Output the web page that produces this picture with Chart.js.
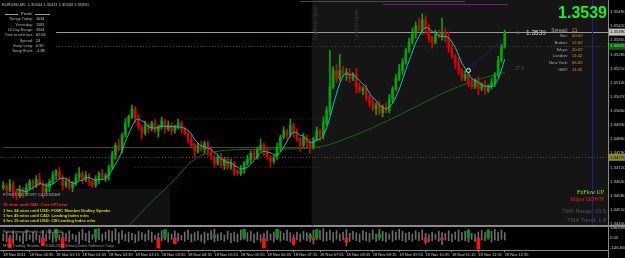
<!DOCTYPE html>
<html>
<head>
<meta charset="utf-8">
<title>EURUSD,M5</title>
<script src="https://cdn.jsdelivr.net/npm/chart.js@4.4.1/dist/chart.umd.min.js"></script>
<style>
  html, body { margin: 0; padding: 0; background: #000; overflow: hidden; }
  #wrap { position: relative; width: 625px; height: 258px; background: #000; }
  #wrap canvas { position: absolute; left: 0; }
  #main { top: 0; }
  #osc { top: 226px; }
</style>
</head>
<body>
<div id="wrap">
  <canvas id="main" width="625" height="226"></canvas>
  <canvas id="osc" width="625" height="32"></canvas>
</div>
<script>
// EURUSD M5, 18 Nov 2011. one entry per 5 minute bar, bar 0 = 17 Nov 23:55
const firstOpen = 1.3462;
const closes = [
  1.3463, 1.3461, 1.3464, 1.3460, 1.3458, 1.3461, 1.3459, 1.3462, 1.3465, 1.3463,
  1.3466, 1.3464, 1.3460, 1.3462, 1.3465, 1.3468, 1.3470, 1.3467, 1.3463, 1.3465,
  1.3462, 1.3464, 1.3467, 1.3469, 1.3466, 1.3468, 1.3465, 1.3463, 1.3466, 1.3469,
  1.3467, 1.3468, 1.3472, 1.3478, 1.3483, 1.3481, 1.3488, 1.3494, 1.3497, 1.3501,
  1.3496, 1.3492, 1.3489, 1.3493, 1.3491, 1.3494, 1.3490, 1.3492, 1.3495, 1.3491,
  1.3493, 1.3490, 1.3492, 1.3494, 1.3491, 1.3489, 1.3486, 1.3483, 1.3480, 1.3483,
  1.3481, 1.3484, 1.3480, 1.3477, 1.3474, 1.3477, 1.3473, 1.3476, 1.3472, 1.3474,
  1.3470, 1.3469, 1.3471, 1.3474, 1.3476, 1.3479, 1.3477, 1.3481, 1.3483, 1.3480,
  1.3477, 1.3475, 1.3477, 1.3482, 1.3487, 1.3490, 1.3488, 1.3493, 1.3489, 1.3486,
  1.3483, 1.3487, 1.3484, 1.3482, 1.3486, 1.3490, 1.3488, 1.3494, 1.3500, 1.3512,
  1.3520, 1.3516, 1.3520, 1.3518, 1.3519, 1.3516, 1.3518, 1.3512, 1.3510, 1.3511,
  1.3507, 1.3504, 1.3501, 1.3503, 1.3499, 1.3502, 1.3500, 1.3506, 1.3511, 1.3516,
  1.3520, 1.3524, 1.3530, 1.3534, 1.3538, 1.3542, 1.3540, 1.3545, 1.3541, 1.3536,
  1.3534, 1.3538, 1.3537, 1.3539, 1.3536, 1.3531, 1.3527, 1.3524, 1.3520, 1.3516,
  1.3518, 1.3514, 1.3512, 1.3515, 1.3511, 1.3513, 1.3510, 1.3512, 1.3514, 1.3518,
  1.3525, 1.3532, 1.3539
];
// wick lengths in pips above / below the body
const wickUp = [
  2, 1, 2, 1, 1, 2, 1, 2, 1, 1,
  2, 3, 1, 2, 1, 2, 1, 2, 1, 1,
  2, 1, 2, 3, 1, 2, 1, 1, 2, 1,
  2, 1, 1, 2, 1, 3, 1, 2, 1, 2,
  1, 2, 1, 2, 1, 1, 2, 1, 2, 1,
  2, 1, 1, 2, 1, 1, 1, 2, 1, 1,
  2, 1, 1, 2, 1, 1, 2, 1, 1, 2,
  1, 1, 2, 1, 2, 1, 2, 1, 3, 1,
  2, 1, 1, 2, 1, 2, 1, 3, 1, 2,
  1, 2, 1, 2, 1, 2, 1, 3, 2, 18,
  2, 3, 8, 2, 2, 2, 1, 3, 2, 1,
  2, 1, 2, 1, 2, 1, 2, 2, 1, 2,
  3, 2, 1, 2, 3, 2, 4, 3, 2, 2,
  1, 2, 2, 7, 2, 3, 2, 1, 2, 1,
  2, 1, 2, 1, 2, 1, 2, 1, 2, 1,
  2, 1, 1
];
const wickDn = [
  1, 2, 1, 3, 2, 1, 2, 1, 1, 2,
  1, 1, 3, 1, 2, 1, 2, 1, 2, 1,
  1, 2, 1, 1, 2, 1, 2, 1, 1, 2,
  1, 2, 2, 1, 2, 1, 2, 1, 2, 1,
  2, 1, 3, 1, 2, 1, 1, 3, 1, 2,
  1, 2, 1, 1, 2, 1, 2, 1, 3, 1,
  1, 2, 2, 1, 2, 1, 1, 2, 1, 1,
  2, 1, 1, 2, 1, 2, 1, 1, 1, 2,
  1, 3, 1, 1, 2, 1, 2, 1, 2, 1,
  3, 1, 2, 3, 1, 1, 3, 2, 1, 2,
  1, 2, 1, 1, 3, 2, 1, 3, 1, 2,
  2, 2, 1, 3, 1, 2, 1, 1, 2, 1,
  1, 2, 1, 1, 1, 2, 1, 2, 3, 2,
  3, 1, 1, 2, 2, 2, 1, 3, 2, 1,
  1, 2, 1, 1, 3, 1, 2, 1, 1, 2,
  1, 1, 1
];

// slow moving average, read at a few bars
const slowMaBars = [38, 45, 52, 58, 65, 80, 95, 105, 115, 125, 135, 145, 152];
const slowMaValues = [1.3443, 1.3455, 1.3466, 1.3476, 1.3480, 1.3481, 1.3482, 1.3487, 1.3494, 1.3502, 1.3510, 1.3516, 1.3519];
const upperBandBars = [55, 96];
const upperBandValues = [1.3496, 1.3496];
const lowerBandBars = [40, 96];
const lowerBandValues = [1.3472, 1.3472];
const swingBars = [141, 152];
const swingValues = [1.3521, 1.3536];
const ringBars = [141];
const ringValues = [1.3520];

// oscillator panel
const oscHigh = [
  60, 90, 40, 110, 70, 30, 80, 120, 50, 90,
  70, 40, 100, 60, 130, 80, 120, 50, 90, 70,
  110, 60, 40, 90, 130, 70, 100, 50, 80, 140,
  60, 90, 120, 100, 140, 80, 110, 60, 90, 70,
  50, 100, 80, 60, 120, 90, 40, 70, 110, 130,
  80, 60, 100, 70, 40, 90, 120, 60, 80, 100,
  50, 90, 70, 110, 130, 60, 80, 40, 100, 70,
  90, 60, 120, 130, 80, 100, 60, 90, 50, 70,
  110, 60, 90, 130, 100, 70, 120, 80, 50, 90,
  60, 100, 80, 70, 120, 130, 110, 140, 90, 120,
  80, 110, 60, 90, 130, 70, 100, 80, 60, 110,
  90, 70, 120, 60, 130, 100, 80, 60, 110, 90,
  130, 100, 70, 90, 60, 110, 80, 120, 70, 50,
  90, 60, 100, 80, 70, 110, 60, 90, 120, 80,
  100, 130, 70, 60, 90, 110, 80, 120, 100, 130,
  90, 120, 80
];
const oscLow = [
  -40, -60, -20, -80, -30, -50, -90, -40, -20, -60,
  -30, -70, -110, -40, -20, -60, -50, -30, -100, -40,
  -60, -20, -50, -90, -30, -40, -70, -20, -60, -30,
  -50, -20, -40, -60, -30, -80, -20, -40, -60, -30,
  -70, -40, -20, -50, -30, -60, -20, -110, -40, -30,
  -60, -20, -90, -40, -30, -50, -20, -60, -40, -30,
  -50, -80, -30, -20, -60, -40, -30, -50, -20, -70,
  -40, -60, -30, -20, -50, -40, -70, -30, -60, -120,
  -40, -30, -60, -20, -50, -30, -40, -60, -110, -30,
  -50, -20, -40, -60, -90, -30, -20, -50, -40, -30,
  -60, -20, -40, -30, -120, -50, -20, -40, -60, -30,
  -40, -60, -20, -50, -30, -40, -60, -20, -50, -30,
  -20, -40, -60, -30, -50, -20, -40, -30, -90, -60,
  -40, -20, -50, -100, -30, -40, -60, -20, -50, -30,
  -40, -60, -20, -50, -140, -30, -40, -20, -60, -30,
  -40, -20, -30
];
const greenSignals = [[16, 130], [28, 130], [49, 120], [64, 40], [73, 130], [83, 130], [93, 40], [95, 120], [114, 60], [141, 110], [147, 120]];
const redSignals = [[2, -150], [12, -110], [18, -150], [47, -150], [52, -80], [79, -150], [88, -90], [94, -30], [104, -60], [128, -60], [133, -30], [144, -170]];

// axes
const priceTicks = [1.3549, 1.3542, 1.3535, 1.3528, 1.3521, 1.3514, 1.3507, 1.3500, 1.3493, 1.3486, 1.3479, 1.3472, 1.3465, 1.3458, 1.3451, 1.3444];
const tickBars = [0, 8, 16, 24, 32, 40, 48, 56, 64, 72, 80, 88, 96, 104, 112, 120, 128, 136, 144, 152];
const tickLabels = ["18 Nov 2011", "18 Nov 00:35", "18 Nov 01:15", "18 Nov 01:55", "18 Nov 02:35", "18 Nov 03:15", "18 Nov 03:55", "18 Nov 04:35", "18 Nov 05:15", "18 Nov 05:55", "18 Nov 06:35", "18 Nov 07:15", "18 Nov 07:55", "18 Nov 08:35", "18 Nov 09:15", "18 Nov 09:55", "18 Nov 10:35", "18 Nov 11:15", "18 Nov 11:55", "18 Nov 12:35"];
const oscTicks = [146.666, 0, -146.666];
const oscTickLabels = ["146.666", "0.00", "-146.666"];

// levels
const bidPrice = 1.3539;
const greenLevel = 1.3532;
const yellowLevel = 1.3477;
const openLevel = 1.3482;
const topLevel = 1.35545;
const purpleLevel = 1.3553;
const sessionStartBar = 93.5;
const frankfurtBar = 94;
const londonBar = 106.5;
const nowBar = 178.5;

const yMin = 1.3443, yMax = 1.35549;
const xMin = -1, xMax = 183.3;
const pip = 0.0001;

const pivotRows = [["Range Today:", "1034"], ["Yesterday:", "1581"], ["10 Day Range:", "1504"], ["Time to next bar:", "02:06"], ["Spread:", "24"], ["Swap Long:", "0.90"], ["Swap Short:", "-1.88"]];
const clockRows = [["Spread:", "21"], ["Bar:", "00:02"], ["Broker:", "12:42"], ["Tokyo:", "20:42"], ["London:", "11:42"], ["New York:", "06:42"], ["GMT:", "11:42"]];
const newsLines = [
  ["10 mins until CAD: Core CPI m/m", "#ff2a2a"],
  ["1 hrs 34 mins until USD: FOMC Member Dudley Speaks", "#d8d800"],
  ["1 hrs 49 mins until CAD: Leading Index m/m", "#d8d800"],
  ["3 hrs 19 mins until USD: CB Leading Index m/m", "#d8d800"],
];

const SANS = "'Liberation Sans', Arial, sans-serif";
const SERIF = "'Liberation Serif', 'Times New Roman', serif";
Chart.defaults.font.family = SANS;
Chart.defaults.animation = false;
Chart.defaults.events = [];
Chart.defaults.plugins.legend.display = false;
Chart.defaults.plugins.tooltip.enabled = false;

const n = closes.length;
const opens = [firstOpen].concat(closes.slice(0, n - 1));
const highs = closes.map((c, i) => Math.max(c, opens[i]) + wickUp[i] * pip);
const lows = closes.map((c, i) => Math.min(c, opens[i]) - wickDn[i] * pip);
const candleColor = closes.map((c, i) => (c >= opens[i] ? "#00a800" : "#d80000"));

const fastMa = [];
closes.forEach((c, i) => {
  if (i < 4) return;
  let s = 0;
  for (let k = i - 4; k <= i; k++) s += closes[k];
  fastMa.push({ x: i, y: s / 5 });
});

const pts = (bars, vals) => bars.map((b, i) => ({ x: b, y: vals[i] }));

function txt(ctx, s, x, y, color, size, align, font, bold) {
  ctx.font = (bold ? "bold " : "") + size + "px " + (font || SANS);
  ctx.fillStyle = color;
  ctx.textAlign = align || "left";
  ctx.textBaseline = "middle";
  ctx.fillText(s, x, y);
}

function hLine(ctx, x, y, price, fromBar, toBar, color, dash) {
  const py = Math.round(y.getPixelForValue(price)) + 0.5;
  ctx.beginPath();
  ctx.setLineDash(dash || []);
  ctx.strokeStyle = color;
  ctx.lineWidth = 1;
  ctx.moveTo(x.getPixelForValue(fromBar), py);
  ctx.lineTo(x.getPixelForValue(toBar), py);
  ctx.stroke();
  ctx.setLineDash([]);
}

const mainDecor = {
  id: "mainDecor",
  beforeDatasetsDraw(chart) {
    const { ctx, chartArea: a, scales: { x, y } } = chart;
    ctx.save();
    // session shading
    const sx = x.getPixelForValue(sessionStartBar);
    ctx.fillStyle = "#151515";
    ctx.fillRect(sx, a.top, a.right - sx, a.bottom - a.top);
    // calendar box
    ctx.fillStyle = "#111111";
    ctx.fillRect(0, 189, 170, a.bottom - 189);

    hLine(ctx, x, y, topLevel, 90, 140, "#4a4a4a");
    hLine(ctx, x, y, purpleLevel, 115, 153, "#7a1a8a");
    hLine(ctx, x, y, openLevel, 0, 96, "#4f4a1c");
    hLine(ctx, x, y, yellowLevel, xMin, xMax, "#4d5a1e", [1, 2]);
    hLine(ctx, x, y, greenLevel, 16, xMax, "#2a5a2a", [1, 2]);
    hLine(ctx, x, y, bidPrice, 16, xMax, "#9a9a9a");

    // now line
    const nx = Math.round(x.getPixelForValue(nowBar)) + 0.5;
    ctx.strokeStyle = "#1c1c9a";
    ctx.beginPath();
    ctx.moveTo(nx, a.top);
    ctx.lineTo(nx, a.bottom);
    ctx.stroke();

    // session labels
    [[frankfurtBar, "Frankfurt Open"], [londonBar, "London Open"]].forEach(([b, s]) => {
      ctx.save();
      ctx.translate(x.getPixelForValue(b) + 2, 40);
      ctx.rotate(-Math.PI / 2);
      txt(ctx, s, 0, 0, "#3c3c3c", 5);
      ctx.restore();
    });
    ctx.restore();
  },
  afterDraw(chart) {
    const { ctx, chartArea: a, scales: { y } } = chart;
    ctx.save();
    // price axis border
    ctx.strokeStyle = "#8a8a8a";
    ctx.beginPath();
    ctx.moveTo(a.right + 0.5, 0);
    ctx.lineTo(a.right + 0.5, chart.height);
    ctx.moveTo(0, chart.height - 0.5);
    ctx.lineTo(chart.width, chart.height - 0.5);
    ctx.stroke();

    // axis tags
    [[bidPrice, "#c4c4c4", "#000"], [greenLevel, "#0c5e0c", "#7cff7c"], [yellowLevel, "#8a8a2c", "#000"]].forEach(([p, bg, fg]) => {
      const py = y.getPixelForValue(p);
      ctx.fillStyle = bg;
      ctx.fillRect(a.right + 1, py - 3.5, chart.width - a.right, 7);
      txt(ctx, p.toFixed(5), a.right + 2, py, fg, 4.3);
    });

    // symbol line
    txt(ctx, "EURUSD,M5  1.35344 1.35411 1.35343 1.35390", 2, 5, "#c8c8c8", 4);

    // pivots box
    ctx.strokeStyle = "#9a9a9a";
    ctx.beginPath();
    ctx.moveTo(5, 14.5); ctx.lineTo(18, 14.5);
    ctx.moveTo(35, 14.5); ctx.lineTo(50, 14.5);
    ctx.stroke();
    txt(ctx, "Pivots", 26.5, 14, "#c0c0c0", 4, "center");
    pivotRows.forEach(([l, v], k) => {
      const ry = 19.3 + k * 5.3;
      txt(ctx, l, 33, ry, "#b4b4b4", 3.8, "right");
      txt(ctx, v, 36, ry, "#c8c8c8", 3.8);
    });

    // big bid
    ctx.font = "bold 16px " + SANS;
    ctx.fillStyle = "#1ef01e";
    ctx.textAlign = "right";
    ctx.textBaseline = "alphabetic";
    ctx.fillText("1.3539", 607, 18);

    txt(ctx, "14", 515, 33, "#6a6a6a", 4);
    txt(ctx, "1.3539", 526, 33.5, "#d4d4d4", 6.5);
    txt(ctx, "17.5", 515, 69, "#505050", 4.5);

    const clockY = [30.7, 36, 43, 50, 56.3, 63, 69.7];
    clockRows.forEach(([l, v], k) => {
      txt(ctx, l, 568, clockY[k], "#a8a8a8", k === 0 ? 4.8 : 4.2, "right");
      txt(ctx, v, 572, clockY[k], "#e8901e", k === 0 ? 4.8 : 4.2);
    });

    // calendar
    txt(ctx, "FOREX FACTORY CALENDAR", 3, 195, "#7c7c7c", 4, "left", SANS, true);
    const newsY = [204.5, 210.5, 216, 221.3];
    newsLines.forEach(([s, c], k) => {
      txt(ctx, s, 3, newsY[k], c, 4.1, "left", SANS, true);
    });

    // trend box
    txt(ctx, "FxFlow UP", 604, 192, "#86f000", 5.8, "right", SERIF);
    txt(ctx, "Major DOWN", 604, 199.5, "#ff1a1a", 5.8, "right", SERIF);
    txt(ctx, "TMA Range: 33.5", 606, 211, "#525252", 5.6, "right");
    txt(ctx, "TMA Trend: 1.8", 606, 220, "#525252", 5.6, "right");
    ctx.restore();
  },
};

new Chart(document.getElementById("main"), {
  type: "bar",
  data: {
    datasets: [
      {
        type: "line",
        data: fastMa,
        borderColor: "#00c8c8",
        borderWidth: 1,
        pointRadius: 0,
        tension: 0.3,
        order: 0,
      },
      {
        type: "line",
        data: pts(ringBars, ringValues),
        showLine: false,
        pointRadius: 2,
        pointBorderWidth: 1,
        pointBorderColor: "#ffffff",
        pointBackgroundColor: "rgba(0,0,0,0)",
        order: 0,
      },
      {
        data: closes.map((c, i) => ({ x: i, y: [opens[i], c] })),
        backgroundColor: candleColor,
        barThickness: 2,
        minBarLength: 1,
        grouped: false,
        order: 1,
      },
      {
        data: closes.map((c, i) => ({ x: i, y: [lows[i], highs[i]] })),
        backgroundColor: candleColor,
        barThickness: 1,
        grouped: false,
        order: 2,
      },
      {
        type: "line",
        data: pts(swingBars, swingValues),
        borderColor: "#2626c8",
        borderWidth: 1,
        borderDash: [2, 2],
        pointRadius: 0,
        order: 3,
      },
      {
        type: "line",
        data: pts(slowMaBars, slowMaValues),
        borderColor: "#0c6e0c",
        borderWidth: 1,
        pointRadius: 0,
        tension: 0.4,
        order: 4,
      },
      {
        type: "line",
        data: pts(upperBandBars, upperBandValues),
        borderColor: "#6e1c1c",
        borderWidth: 1,
        borderDash: [1, 2],
        pointRadius: 0,
        order: 5,
      },
      {
        type: "line",
        data: pts(lowerBandBars, lowerBandValues),
        borderColor: "#6e1c1c",
        borderWidth: 1,
        borderDash: [1, 2],
        pointRadius: 0,
        order: 5,
      },
    ],
  },
  options: {
    responsive: false,
    layout: { padding: 0, autoPadding: false },
    scales: {
      x: { type: "linear", min: xMin, max: xMax, offset: false, display: false },
      y: {
        position: "right",
        min: yMin,
        max: yMax,
        bounds: "data",
        afterBuildTicks: (s) => { s.ticks = priceTicks.map((v) => ({ value: v })); },
        afterFit: (s) => { s.width = 17; s.paddingTop = 0; s.paddingBottom = 0; },
        ticks: {
          autoSkip: false,
          padding: 2,
          color: "#c8c8c8",
          font: { size: 4.3 },
          callback: (v) => v.toFixed(5),
        },
        grid: { display: false, drawTicks: false },
        border: { display: false },
      },
    },
  },
  plugins: [mainDecor],
});

const oscDecor = {
  id: "oscDecor",
  afterDraw(chart) {
    const { ctx, chartArea: a } = chart;
    ctx.save();
    ctx.strokeStyle = "#8a8a8a";
    ctx.beginPath();
    ctx.moveTo(0, 0.5);
    ctx.lineTo(chart.width, 0.5);
    ctx.moveTo(a.right + 0.5, 0);
    ctx.lineTo(a.right + 0.5, chart.height);
    ctx.stroke();
    txt(ctx, "Retracement Finder (4) 100.0000", 3, 6, "#a0a0a0", 4);
    txt(ctx, "MT4 Trading Station, \u00a9 2006-2011 MetaQuotes Software Corp.", 3, 20, "#9a9a9a", 4);
    ctx.restore();
  },
};

new Chart(document.getElementById("osc"), {
  type: "bar",
  data: {
    datasets: [
      {
        data: greenSignals.map(([b, v]) => ({ x: b, y: [0, v] })),
        backgroundColor: "#0e8a1a",
        borderWidth: 0,
        barThickness: 3,
        grouped: false,
        order: 0,
      },
      {
        data: redSignals.map(([b, v]) => ({ x: b, y: [v, 0] })),
        backgroundColor: "#ff1010",
        barThickness: 3,
        grouped: false,
        order: 0,
      },
      {
        data: oscHigh.map((h, i) => ({ x: i, y: [oscLow[i], h] })),
        backgroundColor: "#6c6c6c",
        barThickness: 1,
        grouped: false,
        order: 1,
      },
    ],
  },
  options: {
    responsive: false,
    layout: { padding: 0, autoPadding: false },
    scales: {
      x: {
        type: "linear",
        min: xMin,
        max: xMax,
        offset: false,
        afterBuildTicks: (s) => { s.ticks = tickBars.map((v) => ({ value: v })); },
        afterFit: (s) => { s.height = 8; s.paddingLeft = 0; s.paddingRight = 0; },
        ticks: {
          autoSkip: false,
          maxRotation: 0,
          minRotation: 0,
          align: "start",
          padding: 0,
          color: "#c8c8c8",
          font: { size: 4 },
          callback: (v, i) => tickLabels[i],
        },
        grid: { drawOnChartArea: false, drawTicks: true, tickLength: 2, color: "#8a8a8a", offset: false },
        border: { display: true, color: "#8a8a8a" },
      },
      y: {
        position: "right",
        min: -180,
        max: 180,
        bounds: "data",
        afterBuildTicks: (s) => { s.ticks = oscTicks.map((v) => ({ value: v })); },
        afterFit: (s) => { s.width = 17; s.paddingTop = 0; s.paddingBottom = 0; },
        ticks: {
          autoSkip: false,
          padding: 2,
          color: "#c8c8c8",
          font: { size: 4.3 },
          callback: (v, i) => oscTickLabels[i],
        },
        grid: { display: false, drawTicks: false },
        border: { display: false },
      },
    },
  },
  plugins: [oscDecor],
});
</script>
</body>
</html>
